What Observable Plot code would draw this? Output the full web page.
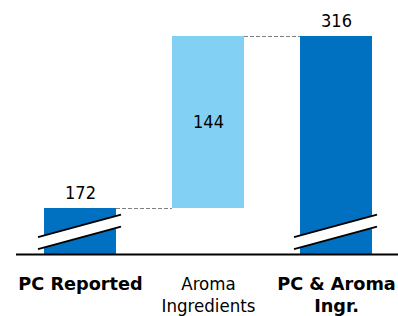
<!DOCTYPE html>
<html><head><meta charset="utf-8">
<script src="https://cdn.jsdelivr.net/npm/d3@7"></script>
<script src="https://cdn.jsdelivr.net/npm/@observablehq/plot@0.6"></script>
<style>html,body{margin:0;padding:0;background:#fff} svg{display:block}</style>
</head><body><div id="chart"></div>
<script>
// ---- data ----
const categories = ["PC Reported", "Aroma Ingredients", "PC & Aroma Ingr."];
const labelLines = ["PC Reported", "Aroma\nIngredients", "PC & Aroma\nIngr."];
const values = [172, 144, 316];
const kinds = ["total", "delta", "total"];
const axisBase = 133.5;   // value at the (broken) baseline
const breakAt = 152;      // value where the axis-break symbol sits

// ---- derived waterfall table ----
let running = 0;
const rows = categories.map((c, i) => {
  const v = values[i];
  let y1, y2;
  if (kinds[i] === "total") { y1 = axisBase; y2 = v; running = v; }
  else { y1 = running; y2 = running + v; running = y2; }
  return {cat: c, label: labelLines[i], value: v, kind: kinds[i], y1, y2, mid: (y1 + y2) / 2};
});
const connectors = rows.slice(0, -1).map((r, i) => ({a: r.cat, b: rows[i + 1].cat, y: r.y2}));

const W = 398, H = 316;
const xRange = [16, 400], padIn = 0.4375, padOut = 0.21875;
const xb = d3.scaleBand(categories, xRange).paddingInner(padIn).paddingOuter(padOut);
const bw = xb.bandwidth();

const dark = "#0070C0", light = "#83D0F5";
const fontC = '"DejaVu Sans Condensed", "DejaVu Sans", sans-serif';
const fontB = '"DejaVu Sans", sans-serif';

function breakMarks(index, scales) {
  const g = d3.create("svg:g");
  for (const r of rows.filter(d => d.kind === "total")) {
    const cx = scales.x(r.cat) + bw / 2;
    const cy = scales.y(breakAt);
    const L = cx - 42, R = cx + 41;
    const t1 = cy + 5.25, t2 = cy - 17.25, b1 = cy + 17.25, b2 = cy - 5.25;
    g.append("path").attr("d", `M${L},${t1}L${R},${t2}L${R},${b2}L${L},${b1}Z`).attr("fill", "#fff");
    g.append("line").attr("x1", L).attr("y1", t1).attr("x2", R).attr("y2", t2)
      .attr("stroke", "#000").attr("stroke-width", 2);
    g.append("line").attr("x1", L).attr("y1", b1).attr("x2", R).attr("y2", b2)
      .attr("stroke", "#000").attr("stroke-width", 2);
  }
  return g.node();
}

const chart = Plot.plot({
  width: W, height: H,
  marginTop: 0, marginBottom: 0, marginLeft: 16, marginRight: 0,
  style: {fontFamily: fontC, fontSize: "18px", background: "#fff", overflow: "visible"},
  x: {type: "band", domain: categories, range: xRange, paddingInner: padIn, paddingOuter: padOut, axis: null},
  y: {domain: [axisBase, 316], range: [254, 36], axis: null},
  marks: [
    Plot.ruleY(connectors, {x1: "a", x2: "b", y: "y", insetLeft: bw, insetRight: bw,
      stroke: "#7f7f7f", strokeWidth: 1, strokeDasharray: "4,2"}),
    Plot.barY(rows, {x: "cat", y1: "y1", y2: "y2", fill: d => d.kind === "total" ? dark : light}),
    breakMarks,
    Plot.ruleY([axisBase], {stroke: "#000", strokeWidth: 2}),
    Plot.text(rows.filter(d => d.kind === "total"), {x: "cat", y: "y2", text: d => String(d.value),
      lineAnchor: "bottom", dy: -10, fill: "#000", fontSize: 18, fontFamily: fontC}),
    Plot.text(rows.filter(d => d.kind !== "total"), {x: "cat", y: "mid", text: d => String(d.value),
      lineAnchor: "middle", fill: "#000", fontSize: 18, fontFamily: fontC}),
    Plot.text(rows.filter(d => d.kind === "total"), {x: "cat", y: axisBase, text: "label",
      lineAnchor: "top", dy: 20, lineHeight: 22 / 17.7, fontWeight: "bold", fill: "#000",
      fontSize: 17.7, fontFamily: fontB}),
    Plot.text(rows.filter(d => d.kind !== "total"), {x: "cat", y: axisBase, text: "label",
      lineAnchor: "top", dy: 19.6, lineHeight: 22 / 18.5, fill: "#000", fontSize: 18.5, fontFamily: fontC})
  ]
});
document.getElementById("chart").appendChild(chart);
</script>
</body></html>
